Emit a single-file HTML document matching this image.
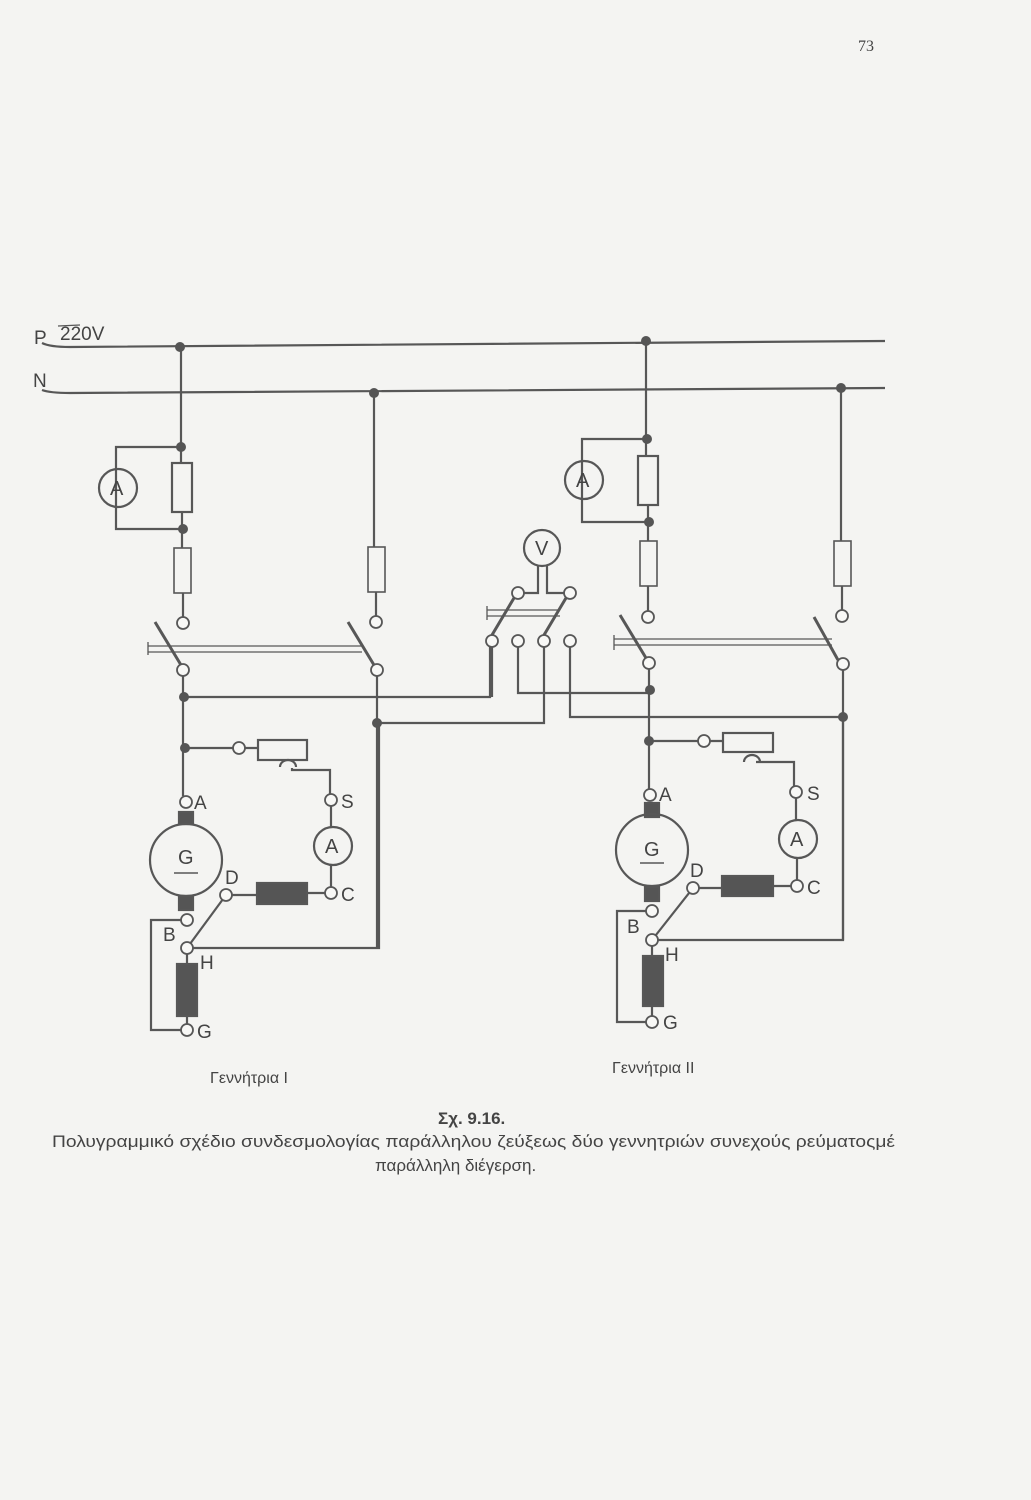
<!DOCTYPE html>
<html><head><meta charset="utf-8"><style>
body{margin:0;background:#f4f4f2;}
svg{display:block}
text{font-family:"Liberation Sans","DejaVu Sans",sans-serif;fill:#444}
</style></head><body>
<svg width="1031" height="1500" viewBox="0 0 1031 1500" xmlns="http://www.w3.org/2000/svg">
<rect width="1031" height="1500" fill="#f4f4f2"/>
<text x="858" y="51" font-family="Liberation Serif" font-size="16" style="font-family:'Liberation Serif',serif">73</text>
<g stroke="#575757" stroke-width="2.2" fill="none">
<path d="M42 343 Q50 347 70 347 L885 341"/>
<path d="M42 390 Q50 393 70 393 L885 388"/>
<path d="M58 326 L80 325" stroke-width="1.2"/>
<path d="M181 347 V463 M182 512 V548 M183 593 V617"/>
<path d="M181 447 H116 V529 H183"/>
<rect x="172" y="463" width="20" height="49"/>
<rect x="174" y="548" width="17" height="45" stroke-width="1.6"/>
<path d="M155 622 L181 665" stroke-width="3"/>
<path d="M183 676 V796 M184 697 H490 V647"/>
<path d="M185 748 H233 M245 748 H258"/>
<rect x="258" y="740" width="49" height="20"/>
<path d="M280 767 a8 7 0 0 1 16 0 M292 768 V770 H330 V794 M331 806 V827 M331 865 V887 M308 893 H325"/>
<path d="M232 895 H257"/>
<rect x="257" y="883" width="50" height="21" fill="#555"/>
<path d="M226 895 L187 948"/>
<path d="M193 948 H379 V723"/>
<path d="M374 393 V547 M376 592 V616 M377 676 V948"/>
<rect x="368" y="547" width="17" height="45" stroke-width="1.6"/>
<path d="M348 622 L374 665" stroke-width="3"/>
<path d="M148 642 V655 M148 646 H362 M148 652 H362" stroke-width="1.3"/>
<path d="M377 723 H544 V647"/>
<rect x="179" y="812" width="14" height="12" fill="#555"/>
<circle cx="186" cy="860" r="36"/>
<rect x="179" y="896" width="14" height="14" fill="#555"/>
<path d="M174 873 H198" stroke-width="1.6"/>
<path d="M181 920 H151 V1030 H181 M187 954 V964 M187 1016 V1024"/>
<rect x="177" y="964" width="20" height="52" fill="#555"/>
<circle cx="333" cy="846" r="19"/>
<circle cx="118" cy="488" r="19"/>
<circle cx="542" cy="548" r="18"/>
<path d="M538 566 V593 H524 M547 566 V593 H564"/>
<path d="M492 635 L514 598 M544 635 L566 598" stroke-width="3"/>
<path d="M487 606 V620 M487 610 H560 M487 616 H560" stroke-width="1.3"/>
<path d="M492 647 V697 M518 647 V693 H650 M570 647 V717 H843"/>
<path d="M646 341 V456 M648 505 V541 M648 586 V611"/>
<path d="M647 439 H582 V522 H649"/>
<rect x="638" y="456" width="20" height="49"/>
<rect x="640" y="541" width="17" height="45" stroke-width="1.6"/>
<path d="M620 615 L646 658" stroke-width="3"/>
<path d="M649 669 V789 M649 741 H698 M710 741 H723"/>
<rect x="723" y="733" width="50" height="19"/>
<path d="M744 762 a8 7 0 0 1 16 0 M756 762 H794 V786 M796 798 V820 M797 858 V880 M773 886 H791"/>
<path d="M699 888 H722"/>
<rect x="722" y="876" width="51" height="20" fill="#555"/>
<path d="M693 888 L652 940"/>
<path d="M658 940 H843 V717"/>
<rect x="645" y="803" width="14" height="14" fill="#555"/>
<circle cx="652" cy="850" r="36"/>
<rect x="645" y="887" width="14" height="14" fill="#555"/>
<path d="M640 863 H664" stroke-width="1.6"/>
<path d="M646 911 H617 V1022 H646 M652 946 V956 M652 1006 V1016"/>
<rect x="643" y="956" width="20" height="50" fill="#555"/>
<circle cx="798" cy="839" r="19"/>
<circle cx="584" cy="480" r="19"/>
<path d="M841 388 V541 M842 586 V610 M843 670 V940"/>
<rect x="834" y="541" width="17" height="45" stroke-width="1.6"/>
<path d="M814 617 L838 660" stroke-width="3"/>
<path d="M614 635 V650 M614 639 H832 M614 645 H832" stroke-width="1.3"/>
</g>
<g fill="#555">
<circle cx="180" cy="347" r="5"/><circle cx="181" cy="447" r="5"/><circle cx="183" cy="529" r="5"/>
<circle cx="184" cy="697" r="5"/><circle cx="185" cy="748" r="5"/><circle cx="374" cy="393" r="5"/>
<circle cx="377" cy="723" r="5"/><circle cx="646" cy="341" r="5"/><circle cx="647" cy="439" r="5"/>
<circle cx="649" cy="522" r="5"/><circle cx="650" cy="690" r="5"/><circle cx="649" cy="741" r="5"/>
<circle cx="841" cy="388" r="5"/><circle cx="843" cy="717" r="5"/>
</g>
<g fill="#f8f8f6" stroke="#575757" stroke-width="1.8">
<circle cx="183" cy="623" r="6"/><circle cx="183" cy="670" r="6"/><circle cx="376" cy="622" r="6"/><circle cx="377" cy="670" r="6"/>
<circle cx="239" cy="748" r="6"/><circle cx="331" cy="800" r="6"/><circle cx="331" cy="893" r="6"/><circle cx="226" cy="895" r="6"/>
<circle cx="186" cy="802" r="6"/><circle cx="187" cy="920" r="6"/><circle cx="187" cy="948" r="6"/><circle cx="187" cy="1030" r="6"/>
<circle cx="518" cy="593" r="6"/><circle cx="570" cy="593" r="6"/>
<circle cx="492" cy="641" r="6"/><circle cx="518" cy="641" r="6"/><circle cx="544" cy="641" r="6"/><circle cx="570" cy="641" r="6"/>
<circle cx="648" cy="617" r="6"/><circle cx="649" cy="663" r="6"/><circle cx="842" cy="616" r="6"/><circle cx="843" cy="664" r="6"/>
<circle cx="704" cy="741" r="6"/><circle cx="796" cy="792" r="6"/><circle cx="797" cy="886" r="6"/><circle cx="693" cy="888" r="6"/>
<circle cx="650" cy="795" r="6"/><circle cx="652" cy="911" r="6"/><circle cx="652" cy="940" r="6"/><circle cx="652" cy="1022" r="6"/>
</g>
<g font-size="19">
<text x="34" y="344">P</text><text x="60" y="340">220V</text><text x="33" y="387">N</text>
<text x="178" y="864" font-size="20">G</text><text x="644" y="856" font-size="20">G</text>
<text x="194" y="809">A</text><text x="341" y="808">S</text><text x="341" y="901">C</text><text x="225" y="884">D</text>
<text x="163" y="941">B</text><text x="200" y="969">H</text><text x="197" y="1038">G</text>
<text x="659" y="801">A</text><text x="807" y="800">S</text><text x="807" y="894">C</text><text x="690" y="877">D</text>
<text x="627" y="933">B</text><text x="665" y="961">H</text><text x="663" y="1029">G</text>
</g>
<g font-size="20">
<text x="110" y="495">A</text><text x="576" y="487">A</text><text x="535" y="555">V</text>
<text x="325" y="853">A</text><text x="790" y="846">A</text>
</g>
<g font-size="16">
<text x="210" y="1083">Γεννήτρια Ι</text>
<text x="612" y="1073">Γεννήτρια ΙΙ</text>
<text x="438" y="1124" font-weight="bold" font-size="17">Σχ. 9.16.</text>
<text x="52" y="1147" font-size="17" textLength="843" lengthAdjust="spacingAndGlyphs">Πολυγραμμικό σχέδιο συνδεσμολογίας παράλληλου ζεύξεως δύο γεννητριών συνεχούς ρεύματοςμέ</text>
<text x="375" y="1171" font-size="17">παράλληλη διέγερση.</text>
</g>
</svg>
</body></html>
